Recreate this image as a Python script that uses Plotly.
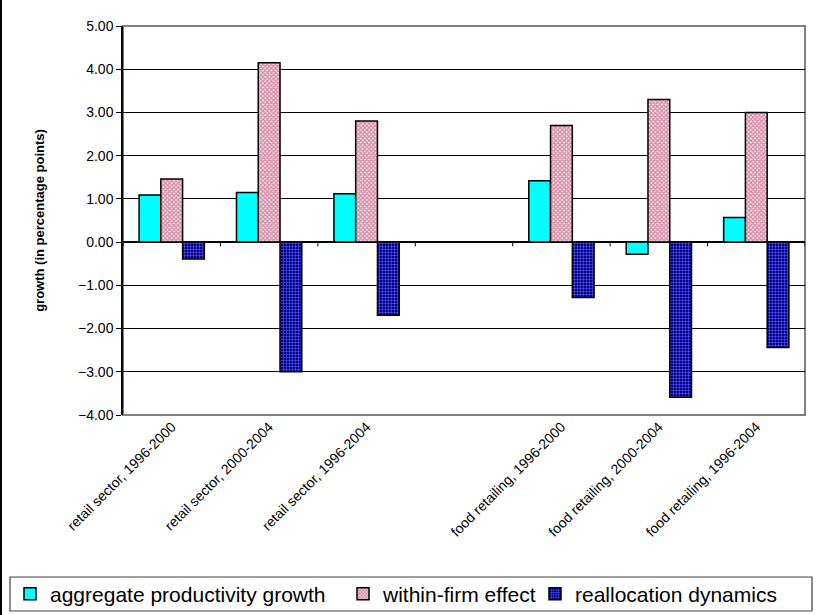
import plotly.graph_objects as go

categories = ["retail sector, 1996-2000", "retail sector, 2000-2004", "retail sector, 1996-2004",
              " ",
              "food retailing, 1996-2000", "food retailing, 2000-2004", "food retailing, 1996-2004"]
aggregate = [1.09, 1.15, 1.12, None, 1.42, -0.28, 0.57]
within = [1.46, 4.15, 2.80, None, 2.70, 3.30, 3.00]
realloc = [-0.39, -3.00, -1.69, None, -1.28, -3.59, -2.44]
series_names = ["aggregate productivity growth", "within-firm effect", "reallocation dynamics"]
y_ticks = [-4, -3, -2, -1, 0, 1, 2, 3, 4, 5]

FONT = "Arial, Liberation Sans, sans-serif"

fig = go.Figure()
fig.add_trace(go.Bar(x=categories, y=aggregate, name=series_names[0], legend="legend",
                     marker=dict(color="#00ffff", line=dict(color="black", width=1.5))))
fig.add_trace(go.Bar(x=categories, y=within, name=series_names[1], legend="legend2",
                     marker=dict(color="#ffffff", line=dict(color="black", width=1.5),
                                 pattern=dict(shape="x", size=3, solidity=0.7,
                                              fgcolor="#d592aa", bgcolor="#fbe8ee", fillmode="replace"))))
fig.add_trace(go.Bar(x=categories, y=realloc, name=series_names[2], legend="legend3",
                     marker=dict(color="#000080", line=dict(color="black", width=1.5),
                                 pattern=dict(shape="+", size=3, solidity=0.35,
                                              fgcolor="#5a5aff", bgcolor="#000080", fillmode="replace"))))

PW, PH = 682.0, 389.0  # plot area size in pixels


def px_x(px):
    return (px - 123) / PW


def px_y(py):
    return (415 - py) / PH


shapes = []
# plot area border
shapes.append(dict(type="rect", xref="paper", yref="paper", x0=0, x1=1, y0=0, y1=1,
                   line=dict(color="#808080", width=2), layer="below"))
# category tick marks on the zero line
for k in range(len(categories) + 1):
    shapes.append(dict(type="line", xref="x", yref="y", x0=k - 0.5, x1=k - 0.5, y0=0, y1=-0.1,
                       line=dict(color="black", width=1)))
# outer chart frame (left edge)
shapes.append(dict(type="line", xref="paper", yref="paper", x0=px_x(1), x1=px_x(1),
                   y0=px_y(615), y1=px_y(0), line=dict(color="black", width=2)))
# legend frame
shapes.append(dict(type="rect", xref="paper", yref="paper", x0=px_x(10), x1=px_x(812),
                   y0=px_y(611), y1=px_y(577), line=dict(color="#404040", width=1.2),
                   fillcolor="white", layer="below"))


def legend_at(left_px):
    return dict(orientation="h", xref="container", yref="container", x=left_px / 819,
                y=(615 - 594) / 615, xanchor="left", yanchor="middle", borderwidth=0,
                bgcolor="rgba(0,0,0,0)", font=dict(size=21, family=FONT), itemwidth=30)


fig.update_layout(
    width=819, height=615,
    margin=dict(l=123, r=14, t=26, b=200),
    paper_bgcolor="white", plot_bgcolor="white",
    font=dict(family=FONT, color="black"),
    barmode="group", bargap=0.33, bargroupgap=0,
    showlegend=True,
    legend=legend_at(10),
    legend2=legend_at(343),
    legend3=legend_at(535),
    shapes=shapes,
)
fig.update_xaxes(type="category", categoryorder="array", categoryarray=categories,
                 tickangle=-45, tickfont=dict(size=14), ticks="", showgrid=False,
                 showline=False, zeroline=False, range=[-0.5, 6.5])
fig.update_yaxes(range=[-4, 5], tickvals=y_ticks, tickformat=".2f", tickfont=dict(size=14),
                 ticks="outside", ticklen=5, tickcolor="black", showline=True, linecolor="black",
                 linewidth=1.5, showgrid=True, gridcolor="black", gridwidth=1,
                 zeroline=True, zerolinecolor="black", zerolinewidth=1.5,
                 title=dict(text="<b>growth (in percentage points)</b>", font=dict(size=13),
                            standoff=30))

fig.write_html("out.html")
